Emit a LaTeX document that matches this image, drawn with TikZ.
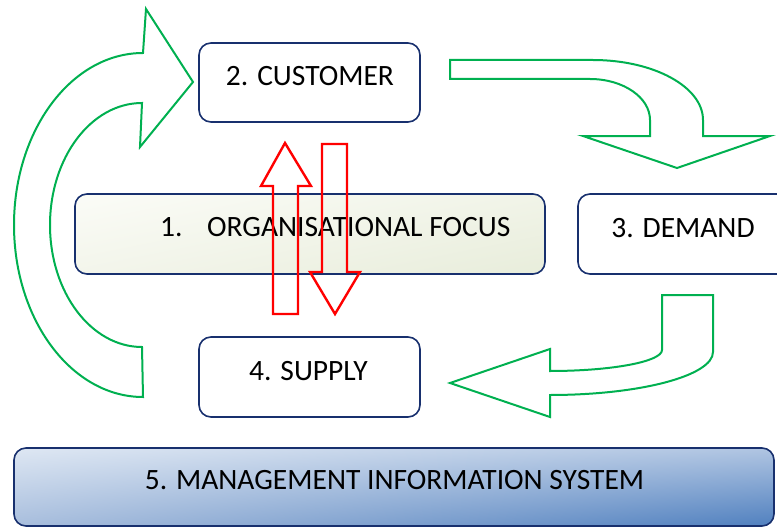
\documentclass[tikz,border=0pt]{standalone}
\usepackage{fontspec}
\setmainfont{Carlito}
\usetikzlibrary{shadings}
\definecolor{navy}{RGB}{24,48,110}
\definecolor{arrowgreen}{RGB}{0,176,80}
\definecolor{orgUL}{RGB}{251,252,247}
\definecolor{orgUR}{RGB}{241,244,232}
\definecolor{orgLL}{RGB}{243,245,235}
\definecolor{orgLR}{RGB}{232,237,219}
\definecolor{misUL}{RGB}{222,231,243}
\definecolor{misUR}{RGB}{176,197,226}
\definecolor{misLL}{RGB}{168,190,221}
\definecolor{misLR}{RGB}{80,128,191}
\begin{document}
\begin{tikzpicture}[x=1pt,y=-1pt,
  box/.style={draw=navy, line width=1.6pt, rounded corners=12pt, inner sep=0pt},
  lbl/.style={inner sep=0pt, anchor=base, font=\fontsize{29.5}{35}\selectfont},
  garrow/.style={draw=arrowgreen, line width=2pt, line join=miter},
  rarrow/.style={draw=red, line width=2.4pt, line join=miter}]
\useasboundingbox (0,0) rectangle (777,527);
\clip (0,0) rectangle (777,527);
% boxes
\node[box, fill=white, minimum width=221pt, minimum height=79pt] (cust) at (309.5,82.5) {};
\node[lbl] (custT) at (310,85) {2. CUSTOMER};
\node[box, shade, upper left=orgUL, upper right=orgUR, lower left=orgLL, lower right=orgLR,
      minimum width=470pt, minimum height=80pt] (org) at (310,234) {};
\node[lbl, anchor=base west] (orgT) at (160,236) {\makebox[47pt][l]{1.}ORGANISATIONAL FOCUS};
\node[box, fill=white, minimum width=212pt, minimum height=80pt] (dem) at (684,234) {};
\node[lbl] (demT) at (683,237) {3. DEMAND};
\node[box, fill=white, minimum width=221pt, minimum height=80pt] (sup) at (309.5,377) {};
\node[lbl] (supT) at (308.5,380) {4. SUPPLY};
\node[box, shade, upper left=misUL, upper right=misUR, lower left=misLL, lower right=misLR,
      minimum width=760pt, minimum height=78pt] (mis) at (394,487) {};
\node[lbl] (misT) at (394.5,489) {5. MANAGEMENT INFORMATION SYSTEM};
% green curved block arrows
\draw[garrow] (143,397) arc[start angle=90, end angle=270, x radius=129, y radius=172]
  -- (146,9) -- (193,82) -- (140,147) -- (142,103)
  arc[start angle=270, end angle=90, x radius=92, y radius=122] -- cycle;
\draw[garrow] (450,60) -- (593,60) arc[start angle=270, end angle=360, x radius=110, y radius=60]
  -- (703,136) -- (770,136) -- (677,168) -- (583,136) -- (650,136) -- (650,120)
  arc[start angle=0, end angle=-90, x radius=60, y radius=41] -- (450,79) -- cycle;
\draw[garrow] (662,295) -- (713,295) -- (713,352)
  arc[start angle=0, end angle=90, x radius=163, y radius=43]
  -- (550,417) -- (450,383) -- (550,349) -- (550,371)
  arc[start angle=90, end angle=0, x radius=112, y radius=21] -- cycle;
% red block arrows
\draw[rarrow] (273,314) -- (273,186) -- (261,186) -- (285,143) -- (311,186) -- (298,186) -- (298,314) -- cycle;
\draw[rarrow] (322,144) -- (347,144) -- (347,272) -- (360,272) -- (335,314) -- (310,272) -- (322,272) -- cycle;
\end{tikzpicture}
\end{document}
